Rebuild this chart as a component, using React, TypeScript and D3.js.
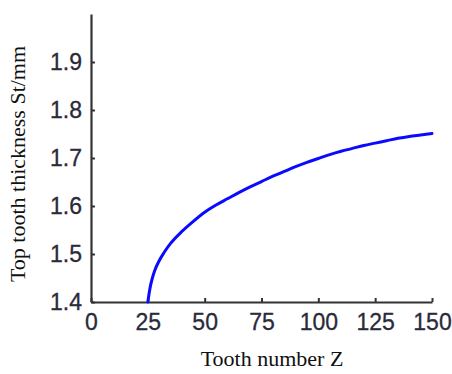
import React from 'react';
import * as d3 from 'd3';
import { useRef } from 'react';
import { useEffect } from 'react';

// tooth number Z and top tooth thickness St (mm)
const toothNumbers = [25, 26, 27, 28, 30, 32, 35, 40, 45, 50, 55, 60, 65, 70, 75, 80, 85, 90, 95, 100, 105, 110, 115, 120, 125, 130, 135, 140, 145, 150];
const thickness = [1.400, 1.430, 1.450, 1.465, 1.486, 1.502, 1.522, 1.547, 1.568, 1.587, 1.602, 1.615, 1.628, 1.640, 1.651, 1.662, 1.672, 1.682, 1.691, 1.699, 1.707, 1.714, 1.720, 1.726, 1.731, 1.736, 1.741, 1.745, 1.748, 1.751];

const xTicks = [0, 25, 50, 75, 100, 125, 150];
const yTicks = [1.4, 1.5, 1.6, 1.7, 1.8, 1.9];

const xLabel = 'Tooth number Z';
const yLabel = 'Top tooth thickness St/mm';

const width = 452;
const height = 374;

function Chart() {
  const root = useRef<HTMLDivElement>(null);

  useEffect(() => {
    const margin = { top: 14, right: 20, bottom: 72, left: 91 };
    const tickFont = '"Liberation Sans", Arial, sans-serif';
    const labelFont = '"Liberation Serif", "Times New Roman", serif';

    const scaleX = d3
      .scaleLinear()
      .domain([0, 150])
      .range([margin.left, width - margin.right]);

    const scaleY = d3
      .scaleLinear()
      .domain([1.4, 2.0])
      .range([height - margin.bottom, margin.top]);

    const svg = d3
      .create('svg')
      .attr('viewBox', `0, 0, ${width}, ${height}`)
      .attr('width', width)
      .attr('height', height);

    svg.append('rect').attr('width', width).attr('height', height).attr('fill', '#fff');

    const xAxis = svg
      .append('g')
      .attr('transform', `translate(0,${height - margin.bottom})`)
      .call(d3.axisBottom(scaleX).tickValues(xTicks).tickFormat(d3.format('d')).tickSizeInner(-4).tickSizeOuter(0).tickPadding(12));

    const yAxis = svg
      .append('g')
      .attr('transform', `translate(${margin.left},0)`)
      .call(d3.axisLeft(scaleY).tickValues(yTicks).tickFormat(d3.format('.1f')).tickSizeInner(-4).tickSizeOuter(0).tickPadding(9));

    [xAxis, yAxis].forEach(g => {
      g.select('.domain').attr('stroke', '#333').attr('stroke-width', 2.2);
      g.selectAll('.tick line').attr('stroke', '#333').attr('stroke-width', 2);
      g.selectAll('.tick text')
        .attr('fill', '#2a2a3a')
        .attr('stroke', '#2a2a3a')
        .attr('stroke-width', 0.3)
        .style('font-family', tickFont)
        .style('font-size', '23px');
    });

    const line = d3
      .line<number>()
      .x((_, i) => scaleX(toothNumbers[i]))
      .y(d => scaleY(d))
      .curve(d3.curveMonotoneX);

    svg
      .append('path')
      .datum(thickness)
      .attr('fill', 'none')
      .attr('stroke', '#0a0aff')
      .attr('stroke-width', 3)
      .attr('stroke-linejoin', 'round')
      .attr('stroke-linecap', 'round')
      .attr('d', line);

    svg
      .append('text')
      .attr('x', 272)
      .attr('y', 366)
      .attr('text-anchor', 'middle')
      .attr('fill', '#111')
      .style('font-family', labelFont)
      .style('font-size', '22px')
      .text(xLabel);

    svg
      .append('text')
      .attr('transform', `translate(25,164) rotate(-90)`)
      .attr('text-anchor', 'middle')
      .attr('fill', '#111')
      .style('font-family', labelFont)
      .style('font-size', '22px')
      .text(yLabel);

    const rootNode = root.current;
    rootNode?.appendChild(svg.node() as Node);

    return () => {
      if (rootNode && rootNode.firstChild) {
        rootNode.removeChild(rootNode.firstChild);
      }
    };
  }, []);

  return <div ref={root} style={{ position: 'absolute', left: 0, top: 0 }} />;
}

export default function App() {
  return <Chart />;
}
